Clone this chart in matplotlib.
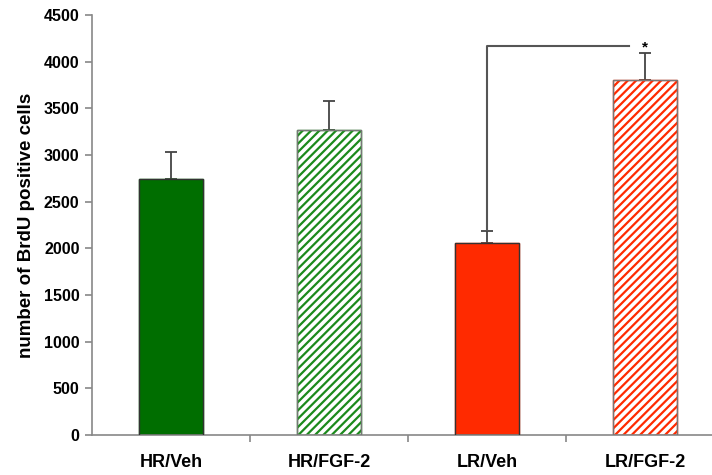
import numpy as np
import matplotlib.pyplot as plt

plt.rcParams['font.family'] = ['Liberation Sans', 'DejaVu Sans']
plt.rcParams['hatch.linewidth'] = 1.6

# data
groups = ['HR/Veh', 'HR/FGF-2', 'LR/Veh', 'LR/FGF-2']
means = [2740, 3270, 2060, 3800]
errs = [290, 310, 125, 290]
y_ticks = [0, 500, 1000, 1500, 2000, 2500, 3000, 3500, 4000, 4500]

green = '#006e00'
red = '#ff2a00'
face = [green, 'white', red, 'white']
hatch_col = [green, '#1c8a1c', red, red]
hatches = [None, '////', None, '////']

fig = plt.figure(figsize=(7.12, 4.75), dpi=100)
ax = fig.add_axes([92/712, 40/475, 620/712, 420/475])

x = np.arange(len(groups))
for i in range(len(groups)):
    b = ax.bar(x[i], means[i], width=0.4, color=face[i], zorder=2)
    b[0].set_edgecolor(hatch_col[i])
    if hatches[i]:
        b[0].set_hatch(hatches[i])
        # outline drawn separately in gray
        ax.bar(x[i], means[i], width=0.4, fill=False, edgecolor='#777777',
               linewidth=1.0, zorder=3)
    else:
        ax.bar(x[i], means[i], width=0.4, fill=False, edgecolor='#333333',
               linewidth=1.0, zorder=3)

ax.errorbar(x, means, yerr=[np.zeros(len(errs)), errs], fmt='none',
            ecolor='#444444', elinewidth=1.3, capsize=4, capthick=1.3, zorder=1)

# significance bracket LR/Veh vs LR/FGF-2
top = 4170
ax.plot([x[2], x[2], 2.9], [means[2] + errs[2] + 20, top, top],
        color='#555555', lw=1.5, zorder=4)
ax.text(x[3], top - 20, '*', ha='center', va='center', fontsize=11,
        fontweight='bold')

ax.set_ylim(0, 4500)
ax.set_xlim(-0.5, -0.5 + 620/158)
ax.set_yticks(y_ticks)
ax.set_yticklabels([str(v) for v in y_ticks], fontsize=11.5, fontweight='bold')
ax.set_xticks([0.5, 1.5, 2.5])
ax.set_xticklabels([])
ax.set_xticks(x, minor=True)
ax.set_xticklabels(groups, minor=True, fontsize=13, fontweight='bold')
ax.tick_params(axis='x', which='minor', length=0, pad=14)
ax.tick_params(axis='x', which='major', length=5, color='#888888', width=1.2)
ax.tick_params(axis='y', length=5, color='#888888', width=1.2, pad=4)

for s in ['top', 'right']:
    ax.spines[s].set_visible(False)
for s in ['left', 'bottom']:
    ax.spines[s].set_color('#888888')
    ax.spines[s].set_linewidth(1.2)

ax.set_ylabel('number of BrdU positive cells', fontsize=13.5,
              fontweight='bold', labelpad=6)

fig.savefig('out.png', dpi=100)
